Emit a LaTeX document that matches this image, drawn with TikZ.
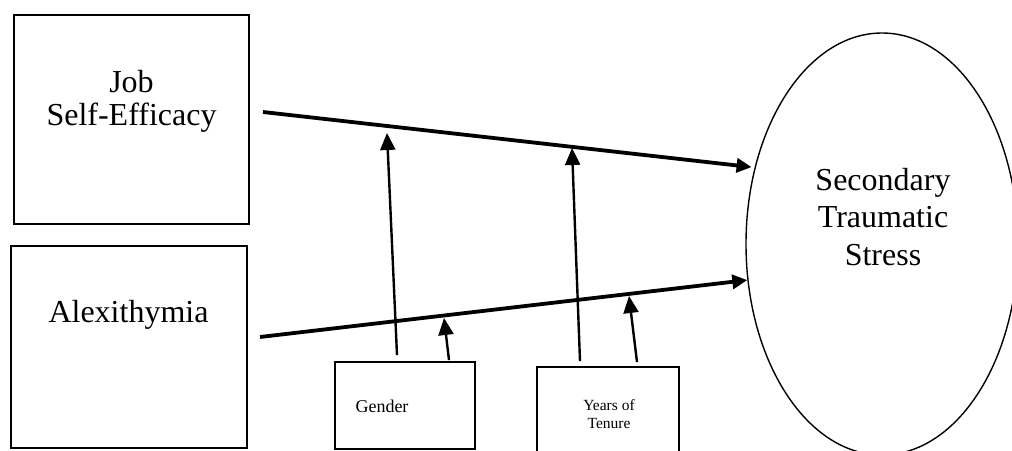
\documentclass[tikz,border=0pt]{standalone}
\usepackage{fontspec}
\setmainfont{Liberation Serif}
\usetikzlibrary{arrows.meta,shapes.geometric}
\tikzset{
  varbox/.style={draw,line width=1.8pt,inner sep=0pt},
  oval/.style={draw,ellipse,line width=1.4pt,inner sep=0pt},
  bigtext/.style={font=\fontsize{32}{33}\selectfont,align=center},
  effect/.style={-{Triangle[length=15pt,width=14pt]},line width=3.8pt},
  moderate/.style={-{Triangle[length=17pt,width=15pt]},line width=2.4pt},
}
\begin{document}
\begin{tikzpicture}[x=1pt,y=-1pt]
  \path[use as bounding box,clip] (0,0) rectangle (1012,450);
  % variables
  \node[varbox,minimum width=235pt,minimum height=209pt] (jse) at (131.5,119.5) {};
  \node[bigtext] (jsetxt) at (131.5,101) {Job\\Self-Efficacy};
  \node[varbox,minimum width=236pt,minimum height=202pt] (alx) at (129,347) {};
  \node[bigtext] (alxtxt) at (128.5,315) {Alexithymia};
  \node[oval,minimum width=272pt,minimum height=422pt] (sts) at (882,244) {};
  \node[bigtext,font=\fontsize{32}{37.5}\selectfont] (ststxt) at (883,217) {Secondary\\Traumatic\\Stress};
  % moderators
  \node[varbox,minimum width=140pt,minimum height=87pt] (gen) at (405,405.5) {};
  \node[font=\fontsize{18}{20}\selectfont] (gentxt) at (382,406) {Gender};
  \node[varbox,minimum width=142pt,minimum height=103pt] (ten) at (608,418.5) {};
  \node[font=\fontsize{15.5}{18}\selectfont,align=center] (tentxt) at (609,414.5) {Years of\\Tenure};
  % paths
  \coordinate (jse-out) at (263,112);
  \coordinate (alx-out) at (260,337);
  \draw[effect,shorten >=3pt] (jse-out) -- (sts.149);
  \draw[effect] (alx-out) -- (sts.195);
  \coordinate (g1) at (387,133);
  \coordinate (g2) at (444,318);
  \coordinate (t1) at (572,148);
  \coordinate (t2) at (629,296);
  \draw[moderate] ([xshift=-8pt,yshift=6pt]gen.north) -- (g1);
  \draw[moderate] ([xshift=44pt,yshift=1pt]gen.north) -- (g2);
  \draw[moderate] ([xshift=-28pt,yshift=5pt]ten.north) -- (t1);
  \draw[moderate] ([xshift=29pt,yshift=4pt]ten.north) -- (t2);
\end{tikzpicture}
\end{document}
